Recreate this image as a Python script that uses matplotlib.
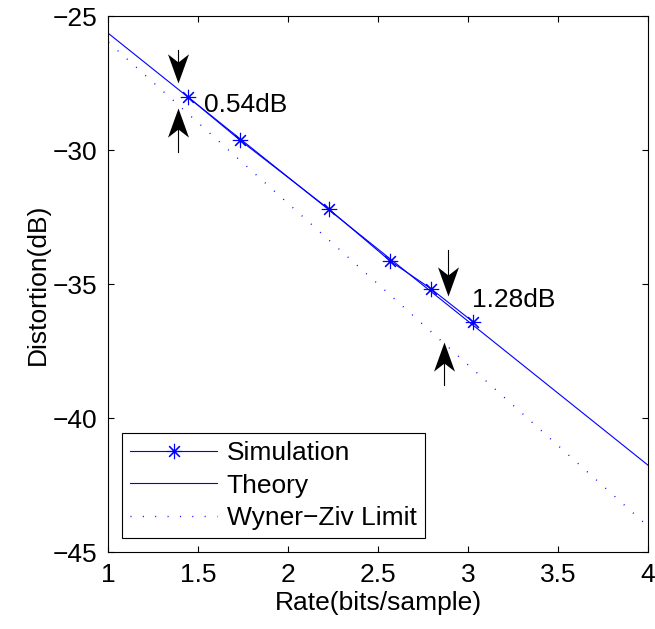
import numpy as np
import matplotlib
matplotlib.use('Agg')
import matplotlib.pyplot as plt

plt.rcParams['font.family'] = ['Liberation Sans', 'DejaVu Sans']
plt.rcParams['font.size'] = 19

# simulation points
sim_rate = [1.442, 1.731, 2.225, 2.568, 2.792, 3.025]
sim_dist = [-28.02, -29.63, -32.20, -34.15, -35.17, -36.40]

# theory curve
theory_rate = [1.0, 4.0]
theory_dist = [-25.65, -41.76]

# Wyner-Ziv limit
wz_rate = [1.0, 4.0]
wz_dist = [-25.98, -44.04]

# gap annotations: (x, tail_down, tip_down, x_up, tail_up, tip_up, text_x, text_y, label)
gaps = [
    (1.386, -26.27, -27.50, 1.386, -30.07, -28.43, 1.53, -28.32, '0.54dB'),
    (2.886, -33.73, -35.45, 2.864, -38.77, -37.16, 3.02, -35.60, '1.28dB'),
]

blue = '#0000ff'

fig = plt.figure(figsize=(6.55, 6.29), dpi=100)
ax = fig.add_axes([0.1656, 0.1224, 0.8237, 0.8521])

ax.plot(sim_rate, sim_dist, color=blue, lw=0.8, marker=(8, 2, 0),
        ms=11, mew=0.8, label='Simulation')
ax.plot(theory_rate, theory_dist, color=blue, lw=0.8, label='Theory')
ax.plot(wz_rate, wz_dist, color=blue, lw=1.0, linestyle=(0, (0.7, 8.2)),
        label='Wyner\u2212Ziv Limit')

# arrow heads with concave back
head_down = [(0, 0), (-0.36, 1.0), (0, 0.72), (0.36, 1.0), (0, 0)]
head_up = [(x, -y) for x, y in head_down]

for xd, td, hd, xu, tu, hu, tx, ty, lab in gaps:
    ax.plot([xd, xd], [td, hd + 0.6], color='k', lw=0.8)
    ax.plot([xd], [hd], marker=head_down, ms=42, color='k', mew=0)
    ax.plot([xu, xu], [tu, hu - 0.6], color='k', lw=0.8)
    ax.plot([xu], [hu], marker=head_up, ms=42, color='k', mew=0)
    ax.text(tx, ty, lab, ha='left', va='center', fontsize=19)

ax.set_xlim(1, 4)
ax.set_ylim(-45, -25)
ax.set_xticks([1, 1.5, 2, 2.5, 3, 3.5, 4])
ax.set_xticklabels(['1', '1.5', '2', '2.5', '3', '3.5', '4'])
ax.set_yticks([-45, -40, -35, -30, -25])
ax.tick_params(direction='in', length=4, width=0.8, top=True, right=True, pad=8)
for sp in ax.spines.values():
    sp.set_linewidth(0.8)

ax.set_xlabel('Rate(bits/sample)', labelpad=3)
ax.set_ylabel('Distortion(dB)', labelpad=2)

leg = ax.legend(loc='lower left', bbox_to_anchor=(0.025, 0.0256), borderaxespad=0,
                fancybox=False, framealpha=1, edgecolor='k', handlelength=3.3,
                handletextpad=0.35, labelspacing=0.31, borderpad=0.32, numpoints=1)
leg.get_frame().set_linewidth(0.8)

fig.savefig('out.png', dpi=100)
